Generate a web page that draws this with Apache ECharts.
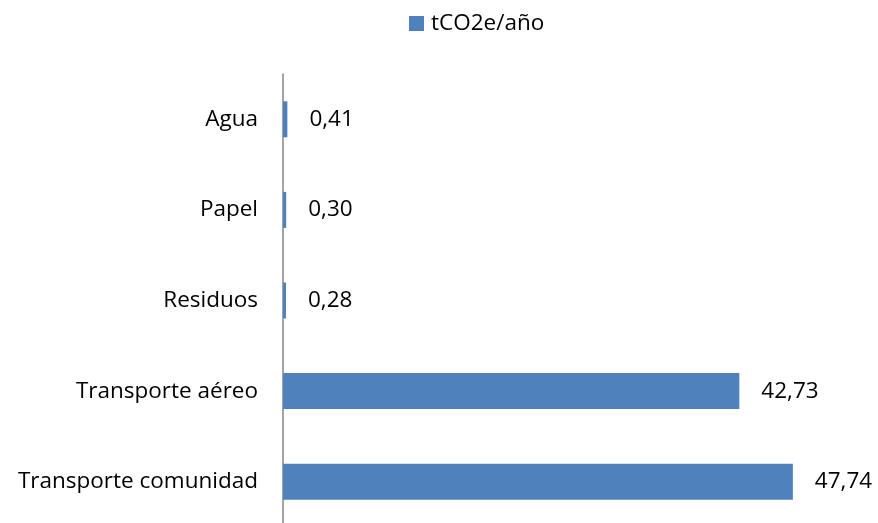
<!DOCTYPE html>
<html>
<head>
<meta charset="utf-8">
<script src="https://cdn.jsdelivr.net/npm/echarts@6/dist/echarts.min.js"></script>
<style>
  html, body { margin: 0; padding: 0; background: #fff; }
  #chart { width: 878px; height: 523px; }
</style>
</head>
<body>
<div id="chart"></div>
<script>
// Emission sources, listed bottom to top
const categories = ['Transporte comunidad', 'Transporte aéreo', 'Residuos', 'Papel', 'Agua'];
// Annual emissions per source (tCO2e/año)
const emissions = [47.74, 42.73, 0.28, 0.30, 0.41];
const seriesName = 'tCO2e/año';

const FONT = 'Open Sans';
const FONT_SIZE = 22.5;
const chart = echarts.init(document.getElementById('chart'), null, { renderer: 'canvas' });

chart.setOption({
  animation: false,
  backgroundColor: '#ffffff',
  textStyle: { fontFamily: FONT },
  legend: {
    data: [seriesName],
    left: 409,
    top: 12,
    padding: 0,
    itemWidth: 15,
    itemHeight: 15,
    itemGap: 8,
    icon: 'rect',
    textStyle: { fontFamily: FONT, fontSize: FONT_SIZE, color: '#000', padding: [0, 0, 0, 2] }
  },
  // plot area runs slightly past the bottom edge, so the axis line reaches the border
  grid: { left: 283, top: 74, right: 61, height: 453, containLabel: false, outerBoundsMode: 'none' },
  xAxis: {
    type: 'value',
    min: 0,
    max: 50,
    show: false,
    splitLine: { show: false }
  },
  yAxis: {
    type: 'category',
    data: categories,
    axisLine: { show: true, lineStyle: { color: '#868686', width: 1.5 } },
    axisTick: { show: false },
    axisLabel: { margin: 25, fontFamily: FONT, fontSize: FONT_SIZE, color: '#000' }
  },
  series: [{
    name: seriesName,
    type: 'bar',
    data: emissions,
    barWidth: 36,
    itemStyle: { color: '#4F81BD' },
    label: {
      show: true,
      position: 'right',
      distance: 22,
      fontFamily: FONT,
      fontSize: FONT_SIZE,
      color: '#000',
      formatter: p => p.value.toFixed(2).replace('.', ',')
    }
  }]
});
</script>
</body>
</html>
